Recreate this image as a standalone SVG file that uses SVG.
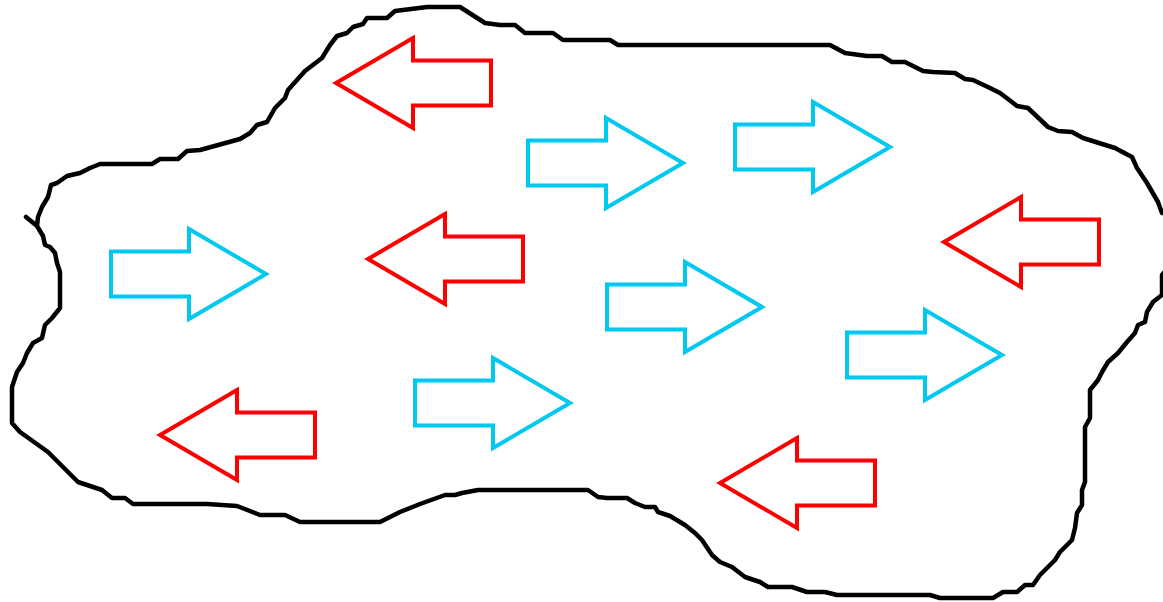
<svg xmlns="http://www.w3.org/2000/svg" xmlns:xlink="http://www.w3.org/1999/xlink" width="1163" height="602" viewBox="0 0 1163 602">
  <style>
    .outline { fill: none; stroke: #000; stroke-width: 4.5; stroke-linejoin: round; stroke-linecap: round; }
    .east { fill: none; stroke: #00c8ee; stroke-width: 4; stroke-linejoin: miter; }
    .west { fill: none; stroke: #ff0000; stroke-width: 4; stroke-linejoin: miter; }
  </style>
  <defs>
    <!-- block arrow with its tip at the origin, pointing right -->
    <path id="arrowRight" d="M-155,-22.5 H-77 V-45 L0,0 L-77,45 V22.5 H-155 Z"/>
    <!-- same arrow pointing left -->
    <path id="arrowLeft" d="M155,-22.5 H77 V-45 L0,0 L77,45 V22.5 H155 Z"/>
  </defs>
  <rect width="1163" height="602" fill="#fff"/>

  <g id="region">
    <path class="outline" d="M26,217 L37,226 L43,236 L45,245 L50,247 L55,253 L57,263 L60,272 L60,308 L52,318 L45,325 L42,338 L33,343 L27,353 L23,363 L17,372 L12,387 L12,423 L20,432 L48,452 L78,482 L102,490 L112,498 L125,498 L133,504 L207,504 L237,506 L260,515 L285,515 L300,522 L380,522 L390,517 L400,512 L420,504 L445,495 L455,495 L462,493 L478,490 L588,490 L598,497 L607,498 L627,498 L635,503 L645,507 L655,507 L658,512 L670,516 L685,525 L695,533 L702,540 L712,555 L720,562 L732,567 L745,577 L760,582 L768,587 L792,587 L807,592 L825,592 L837,595 L930,595 L940,598 L993,598 L1003,592 L1017,592 L1025,585 L1033,585 L1040,575 L1047,568 L1055,560 L1060,552 L1072,540 L1075,528 L1077,513 L1082,505 L1082,490 L1085,482 L1085,427 L1090,418 L1090,390 L1098,380 L1102,372 L1108,362 L1118,353 L1127,342 L1135,333 L1138,325 L1145,322 L1147,312 L1153,302 L1162,295 L1162,275 L1166,270 L1166,210 L1162,213 L1158,202 L1147,183 L1137,168 L1132,157 L1115,148 L1083,138 L1072,132 L1058,131 L1048,127 L1028,108 L1017,106 L1008,99 L1000,93 L990,88 L973,80 L965,79 L955,73 L933,72 L923,71 L905,62 L892,62 L882,56 L867,56 L845,53 L830,45 L618,45 L610,40 L563,40 L553,33 L525,33 L515,25 L500,25 L485,23 L460,7 L427,7 L395,11 L387,18 L367,18 L363,24 L353,27 L347,33 L337,36 L330,45 L322,58 L305,71 L288,90 L285,98 L275,108 L267,122 L257,125 L250,133 L240,139 L200,150 L187,151 L178,159 L160,159 L152,164 L100,164 L90,168 L80,173 L67,176 L57,183 L51,185 L48,197 L42,207 L38,217 L37,226"/>
  </g>

  <g id="arrow-west-1"><use xlink:href="#arrowLeft" class="west" x="336" y="83"/></g>
  <g id="arrow-west-2"><use xlink:href="#arrowLeft" class="west" x="368" y="259"/></g>
  <g id="arrow-west-3"><use xlink:href="#arrowLeft" class="west" x="160" y="435"/></g>
  <g id="arrow-west-4"><use xlink:href="#arrowLeft" class="west" x="720" y="483"/></g>
  <g id="arrow-west-5"><use xlink:href="#arrowLeft" class="west" x="944" y="242"/></g>

  <g id="arrow-east-1"><use xlink:href="#arrowRight" class="east" x="266" y="274"/></g>
  <g id="arrow-east-2"><use xlink:href="#arrowRight" class="east" x="683" y="163"/></g>
  <g id="arrow-east-3"><use xlink:href="#arrowRight" class="east" x="890" y="147"/></g>
  <g id="arrow-east-4"><use xlink:href="#arrowRight" class="east" x="762" y="307"/></g>
  <g id="arrow-east-5"><use xlink:href="#arrowRight" class="east" x="1002" y="355"/></g>
  <g id="arrow-east-6"><use xlink:href="#arrowRight" class="east" x="570" y="403"/></g>
</svg>
